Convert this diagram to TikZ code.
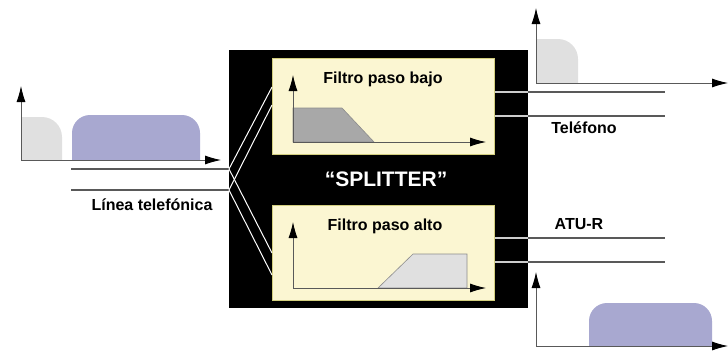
\documentclass[tikz,border=0pt]{standalone}
\usepackage{fontspec}
\setmainfont{Liberation Sans}
\usetikzlibrary{arrows.meta}

\definecolor{cream}{HTML}{FBF6D2}
\definecolor{lilac}{HTML}{A8A8D0}
\definecolor{palegray}{HTML}{E0E0E0}
\definecolor{midgray}{HTML}{A8A8A8}

\begin{document}
\begin{tikzpicture}[x=1bp,y=-1bp,
    axis/.style={draw=black!65, line width=0.8bp, -{Latex[length=16bp,width=9bp,color=black]}},
    wire/.style={draw=black!65, line width=1.1bp},
    innerwire/.style={draw=black!20, line width=1.1bp},
    filterbox/.style={fill=cream, draw=olive!40, line width=0.6bp, inner sep=0pt, minimum width=222bp, anchor=north west},
    label/.style={font=\bfseries\fontsize{16bp}{18bp}\selectfont, inner sep=0pt}]

    \useasboundingbox (0,0) rectangle (728,350);

    % Input signal
    \fill[palegray] (21,160) -- (21,117) [rounded corners=20bp] -- (62,117) [sharp corners] -- (62,160) -- cycle;
    \fill[lilac] (72,160) [rounded corners=18bp] -- (72,115) -- (200,115) [sharp corners] -- (200,160) -- cycle;
    \draw[axis] (21,160) -- (21,86);
    \draw[axis] (21,160) -- (221,160);

    % Telephone line
    \coordinate (in1) at (71,169);
    \coordinate (in2) at (71,190);
    \node[label] (line) at (152,205) {Línea telefónica};

    % Splitter box
    \node[fill=black, inner sep=0pt, minimum width=299bp, minimum height=258bp, anchor=north west] (splitter) at (229,50) {};
    \node[label, text=white, font=\bfseries\fontsize{21bp}{24bp}\selectfont] (name) at (386,179) {“SPLITTER”};

    % Low pass filter
    \node[filterbox, minimum height=96bp] (low) at (272,58) {};
    \node[label] (lowtxt) at (383,79) {Filtro paso bajo};
    \filldraw[fill=midgray, draw=black!45, line width=0.6bp] (293,142) -- (293,108) -- (342,108) -- (374,142) -- cycle;
    \draw[axis] (293,142) -- (293,75);
    \draw[axis] (293,142) -- (486,142);

    % High pass filter
    \node[filterbox, minimum height=95bp] (high) at (272,205) {};
    \node[label] (hightxt) at (385,226) {Filtro paso alto};
    \filldraw[fill=palegray, draw=black!45, line width=0.6bp] (378,288) -- (413,254) -- (467,254) -- (467,288) -- cycle;
    \draw[axis] (293,288) -- (293,222);
    \draw[axis] (293,288) -- (486,288);

    % Wires into the filters
    \draw[wire] (in1) -- (in1 -| splitter.west);
    \draw[wire] (in2) -- (in2 -| splitter.west);
    \draw[white, line width=1bp] (in1 -| splitter.west) -- (low.west |- 0,87);
    \draw[white, line width=1bp] (in2 -| splitter.west) -- (low.west |- 0,105);
    \draw[white, line width=1bp] (in1 -| splitter.west) -- (high.west |- 0,253);
    \draw[white, line width=1bp] (in2 -| splitter.west) -- (high.west |- 0,275);

    % Wires out of the filters
    \foreach \y in {92,116,238,262} {
        \draw[innerwire] (low.east |- 0,\y) -- (splitter.east |- 0,\y);
        \draw[wire] (splitter.east |- 0,\y) -- (665,\y);
    }
    \node[label] (phone) at (584,128) {Teléfono};
    \node[label] (atu) at (579,224) {ATU-R};

    % Output to the telephone
    \fill[palegray] (536,83) -- (536,39) [rounded corners=20bp] -- (578,39) [sharp corners] -- (578,83) -- cycle;
    \draw[axis] (536,83) -- (536,8);
    \draw[axis] (536,83) -- (728,83);

    % Output to the modem
    \fill[lilac] (589,346) [rounded corners=18bp] -- (589,303) -- (712,303) [sharp corners] -- (712,346) -- cycle;
    \draw[axis] (536,346) -- (536,272);
    \draw[axis] (536,346) -- (728,346);
\end{tikzpicture}
\end{document}
